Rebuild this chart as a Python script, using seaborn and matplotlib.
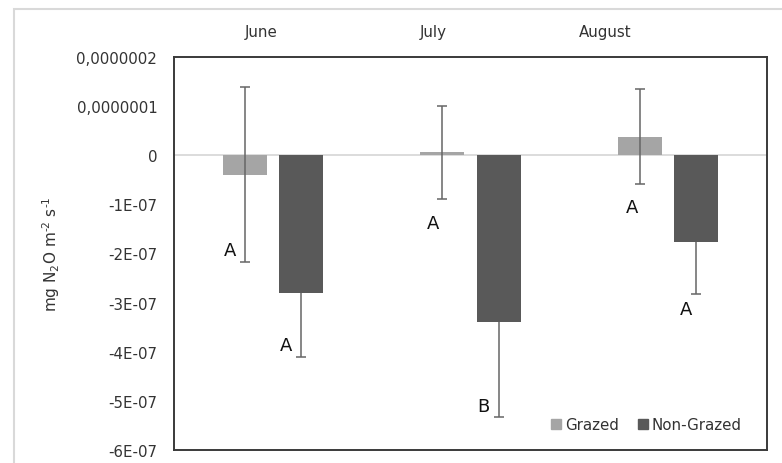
import matplotlib
matplotlib.use("Agg")
import matplotlib.pyplot as plt
from matplotlib.lines import Line2D
from matplotlib.patches import Rectangle
import seaborn as sns
import pandas as pd
import numpy as np

# Monthly N2O flux (mg N2O m-2 s-1) with standard errors
months = ["June", "July", "August"]
treatments = ["Grazed", "Non-Grazed"]
grazed_mean = [-0.40e-7, 0.06e-7, 0.38e-7]
grazed_err = [1.78e-7, 0.95e-7, 0.96e-7]
nongrazed_mean = [-2.81e-7, -3.39e-7, -1.77e-7]
nongrazed_err = [1.29e-7, 1.93e-7, 1.05e-7]
grazed_letters = ["A", "A", "A"]
nongrazed_letters = ["A", "B", "A"]
ytick_values = [2e-7, 1e-7, 0, -1e-7, -2e-7, -3e-7, -4e-7, -5e-7, -6e-7]
ytick_labels = ["0,0000002", "0,0000001", "0", "-1E-07", "-2E-07",
                "-3E-07", "-4E-07", "-5E-07", "-6E-07"]

df = pd.DataFrame({
    "month": months * 2,
    "treatment": [treatments[0]] * 3 + [treatments[1]] * 3,
    "flux": grazed_mean + nongrazed_mean,
})

sns.set_theme(style="white")
plt.rcParams["font.family"] = ["DejaVu Sans"]
plt.rcParams["mathtext.default"] = "regular"

W, H = 782, 464
fig = plt.figure(figsize=(W / 100, H / 100), dpi=100)
ax = fig.add_axes([174 / W, 1 - 451 / H, (767 - 174) / W, (451 - 58) / H])

colors = {"Grazed": "#a5a5a5", "Non-Grazed": "#595959"}
sns.barplot(data=df, x="month", y="flux", hue="treatment", order=months,
            hue_order=treatments, palette=colors, errorbar=None,
            width=0.57, gap=0.22, saturation=1, legend=False, ax=ax,
            linewidth=0, zorder=2)

ax.set_xlim(-0.5, 2.5)
ax.set_ylim(-6e-7, 2e-7)
ax.axhline(0, color="#d9d9d9", lw=1.3, zorder=1)

# Error bars: grazed both directions, non-grazed only below the bar
err_color = "#666666"
xs = np.arange(len(months))
off = 0.57 / 4
gx = xs - off
nx = xs + off
ax.errorbar(gx, grazed_mean, yerr=grazed_err, fmt="none", ecolor=err_color,
            elinewidth=1.1, capsize=3.6, capthick=1.1, zorder=3)
eb = ax.errorbar(nx, nongrazed_mean, yerr=[nongrazed_err, [0] * 3],
                 fmt="none", ecolor=err_color, elinewidth=1.1, capsize=3.6,
                 capthick=1.1, zorder=3)
# no cap where the one-sided bar meets the column
eb.lines[1][1].set_visible(False)

# Significance letters, offset (pixels) from the lower end of each error bar
g_offsets = [(-15, 12), (-9, -24), (-8, -23)]
n_offsets = [(-15, 12), (-15, 11), (-10, -15)]
for i in range(3):
    low = grazed_mean[i] - grazed_err[i]
    ax.annotate(grazed_letters[i], (gx[i], low), xytext=g_offsets[i],
                textcoords="offset pixels", ha="center", va="center",
                fontsize=13, color="#111111", zorder=4)
    low = nongrazed_mean[i] - nongrazed_err[i]
    ax.annotate(nongrazed_letters[i], (nx[i], low), xytext=n_offsets[i],
                textcoords="offset pixels", ha="center", va="center",
                fontsize=13, color="#111111", zorder=4)

ax.set_yticks(ytick_values)
ax.set_yticklabels(ytick_labels, fontsize=10.8, color="#333333")
ax.tick_params(axis="y", length=0, pad=12)
ax.set_xticks([])
ax.set_xlabel("")
ax.set_ylabel("mg N$_2$O m$^{\u20102}$ s$^{\u20101}$", fontsize=11,
              color="#333333")
ax.yaxis.set_label_coords(-0.189, 0.5)

for s in ax.spines.values():
    s.set_visible(True)
    s.set_color("#3a3a3a")
    s.set_linewidth(1.4)

# Month headers above the plot area
for name, px in zip(months, [261, 433, 605]):
    fig.text(px / W, 1 - 33 / H, name, ha="center", va="center",
             fontsize=10.8, color="#333333")

# Legend
handles = [Line2D([], [], marker="s", ls="none", markersize=6.5,
                  markerfacecolor=colors[t], markeredgecolor=colors[t])
           for t in treatments]
fig.legend(handles, treatments, loc="center right",
           bbox_to_anchor=(749 / W, 1 - 426 / H), ncol=2, frameon=False,
           fontsize=10.8, handlelength=0.8, handletextpad=0.2,
           columnspacing=1.2, borderpad=0, labelcolor="#333333")

# Outer chart frame
fig.patches.append(Rectangle((14 / W, -0.1), 1.2, 1 - 10 / H + 0.1,
                             transform=fig.transFigure, fill=False,
                             edgecolor="#d9d9d9", lw=1.5, zorder=0))

fig.savefig("out.png", dpi=100)
